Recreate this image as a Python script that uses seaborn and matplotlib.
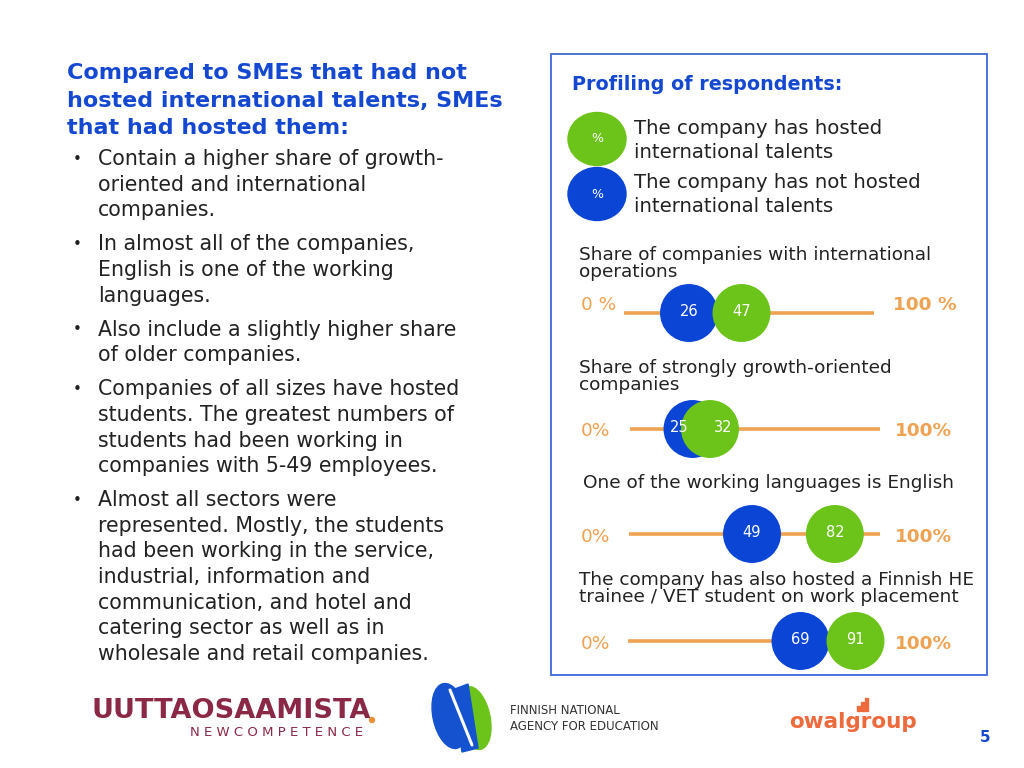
import matplotlib.pyplot as plt
import matplotlib.patches as mpatches
import seaborn as sns
import pandas as pd

# ---- data ----
row_titles = [
    ["Share of companies with international", "operations"],
    ["Share of strongly growth-oriented", "companies"],
    ["One of the working languages is English"],
    ["The company has also hosted a Finnish HE", "trainee / VET student on work placement"],
]
not_hosted = [26, 25, 49, 69]
hosted = [47, 32, 82, 91]
zero_labels = ["0 %", "0%", "0%", "0%"]
full_labels = ["100 %", "100%", "100%", "100%"]
group_names = ["The company has not hosted international talents",
               "The company has hosted international talents"]

title_lines = ["Compared to SMEs that had not",
               "hosted international talents, SMEs",
               "that had hosted them:"]
bullets = [
    ["Contain a higher share of growth-", "oriented and international", "companies."],
    ["In almost all of the companies,", "English is one of the working", "languages."],
    ["Also include a slightly higher share", "of older companies."],
    ["Companies of all sizes have hosted", "students. The greatest numbers of",
     "students had been working in", "companies with 5-49 employees."],
    ["Almost all sectors were", "represented. Mostly, the students",
     "had been working in the service,", "industrial, information and",
     "communication, and hotel and", "catering sector as well as in",
     "wholesale and retail companies."],
]

# ---- styling ----
BLUE = "#0b45d6"
GREEN = "#6cc31a"
ORANGE = "#f0a253"
TITLE_BLUE = "#1448d0"
TEXT = "#222222"
W, H = 1024, 768

sns.set_style("white")
plt.rcParams["font.family"] = ["DejaVu Sans"]

fig = plt.figure(figsize=(W / 100, H / 100), dpi=100)
bg = fig.add_axes([0, 0, 1, 1])
bg.set_xlim(0, W)
bg.set_ylim(H, 0)
bg.axis("off")

# left column
for i, line in enumerate(title_lines):
    bg.text(67, 73 + i * 27.5, line, fontsize=16, fontweight="bold",
            color=TITLE_BLUE, va="center")
y = 159
for block in bullets:
    bg.text(73, y, "•", fontsize=11, color=TEXT, va="center")
    for line in block:
        bg.text(98, y, line, fontsize=14.8, color=TEXT, va="center")
        y += 25.6
    y += 8.5

# right panel box
bg.add_patch(mpatches.Rectangle((551, 54), 436, 621, fill=False,
                                edgecolor="#3d68d8", linewidth=1.3))
bg.text(572, 84, "Profiling of respondents:", fontsize=13.8, fontweight="bold",
        color=TITLE_BLUE, va="center")

# legend swatches
for yy, col, lines in [(139, GREEN, ["The company has hosted", "international talents"]),
                       (194, BLUE, ["The company has not hosted", "international talents"])]:
    bg.add_patch(mpatches.Ellipse((597, yy), 58, 53, color=col))
    bg.text(597, yy, "%", fontsize=9, color="white", ha="center", va="center")
    bg.text(634, yy - 11, lines[0], fontsize=14.2, color=TEXT, va="center")
    bg.text(634, yy + 13, lines[1], fontsize=14.2, color=TEXT, va="center")

# row layout (pixels)
title_pos = [(579, 255), (579, 368), (583, 483), (579, 580)]
row_y = [313, 429, 534, 641]
label_y = [305, 431, 537, 644]
line_x = [(624, 874), (630, 880), (629, 880), (628, 878)]
full_x = [893, 895, 895, 895]

df = pd.DataFrame({
    "row": [r for r in range(4) for _ in range(2)],
    "group": [g for _ in range(4) for g in group_names],
    "value": [v for pair in zip(not_hosted, hosted) for v in pair],
})
palette = {group_names[0]: BLUE, group_names[1]: GREEN}

for r in range(4):
    tx, ty = title_pos[r]
    for k, line in enumerate(row_titles[r]):
        bg.text(tx, ty + k * 17, line, fontsize=13.3, color=TEXT, va="center")
    bg.text(581, label_y[r], zero_labels[r], fontsize=13.3, color=ORANGE, va="center")
    bg.text(full_x[r], label_y[r], full_labels[r], fontsize=13.3, color=ORANGE,
            fontweight="bold", va="center")

    x0, x1 = line_x[r]
    ax = fig.add_axes([x0 / W, 1 - (row_y[r] + 30) / H, (x1 - x0) / W, 60 / H])
    ax.set_xlim(0, 100)
    ax.set_ylim(-1, 1)
    ax.axis("off")
    ax.hlines(0, 0, 100, color=ORANGE, linewidth=2.6, zorder=1)
    sub = df[df["row"] == r].copy()
    sub["y"] = 0
    sns.scatterplot(data=sub, x="value", y="y", hue="group", palette=palette,
                    s=1740, edgecolor="none", legend=False, ax=ax, zorder=2,
                    clip_on=False)
    # keep labels readable when circles overlap
    px_per = (x1 - x0) / 100
    gap = (hosted[r] - not_hosted[r]) * px_per
    shift = max(0, (44 - gap) / 2) * 0.72
    ax.annotate(str(not_hosted[r]), (not_hosted[r], 0), xytext=(-shift, 1),
                textcoords="offset points", ha="center", va="center",
                color="white", fontsize=10.5, zorder=3)
    ax.annotate(str(hosted[r]), (hosted[r], 0), xytext=(shift, 1),
                textcoords="offset points", ha="center", va="center",
                color="white", fontsize=10.5, zorder=3)

# footer logos
bg.text(92, 711, "UUTTAOSAAMISTA", fontsize=19.5, fontweight="bold", color="#8a2846",
        va="center")
bg.add_patch(mpatches.Circle((372, 720), 2.5, color="#e8903a"))
bg.text(190, 733, "N E W C O M P E T E N C E", fontsize=9.5, color="#8a2846",
        va="center")

bg.add_patch(mpatches.Ellipse((450, 716), 34, 66, angle=-12, color="#1452d0"))
bg.add_patch(mpatches.Ellipse((474, 718), 32, 64, angle=-12, color=GREEN))
bg.add_patch(mpatches.Polygon([(452, 690), (468, 684), (478, 748), (462, 752)],
                              closed=True, color="#1452d0"))
bg.plot([450, 472], [690, 745], color="white", linewidth=2.2)
bg.text(510, 711, "FINNISH NATIONAL", fontsize=8.5, color="#333333", va="center")
bg.text(510, 727, "AGENCY FOR EDUCATION", fontsize=8.5, color="#333333", va="center")

bg.text(789, 722, "owalgroup", fontsize=15.5, fontweight="bold", color="#ec6a3c",
        va="center")
for k, hgt in enumerate([5, 9, 13]):
    bg.add_patch(mpatches.Rectangle((857 + k * 4, 711 - hgt), 3, hgt, color="#ec6a3c"))
bg.text(980, 738, "5", fontsize=11, fontweight="bold", color=TITLE_BLUE, va="center")

fig.savefig("out.png", dpi=100)
